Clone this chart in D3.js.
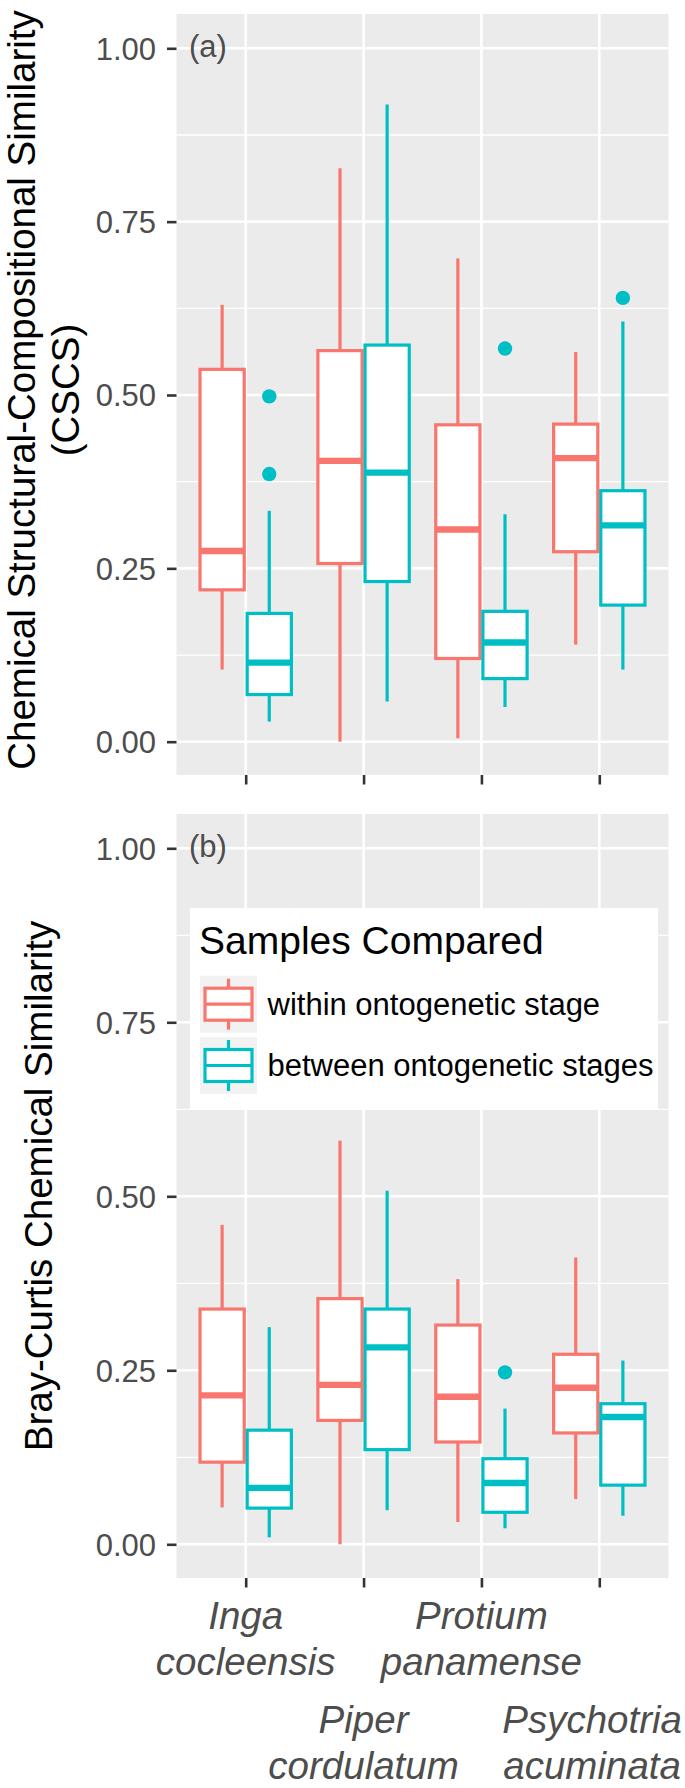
<!DOCTYPE html>
<html>
<head>
<meta charset="utf-8">
<script src="https://cdn.jsdelivr.net/npm/d3@7"></script>
<style>
  html, body { margin: 0; padding: 0; background: #ffffff; }
  svg { display: block; font-family: "Liberation Sans", Arial, Helvetica, sans-serif; }
</style>
</head>
<body>
<svg id="chart" width="685" height="1788"></svg>
<script>
// ---------------- data ----------------
const species = ["Inga cocleensis", "Piper cordulatum", "Protium panamense", "Psychotria acuminata"];
const labelLines = [["Inga", "cocleensis"], ["Piper", "cordulatum"], ["Protium", "panamense"], ["Psychotria", "acuminata"]];
const groups = ["within ontogenetic stage", "between ontogenetic stages"];
const yTicks = [0, 0.25, 0.5, 0.75, 1];
const yMinor = [0.125, 0.375, 0.625, 0.875];

// box stats: [lower whisker, Q1, median, Q3, upper whisker]
// Panel (a): Chemical Structural-Compositional Similarity
const cscsWithin = [
  [0.104, 0.219, 0.275, 0.537, 0.630],
  [0.000, 0.257, 0.405, 0.564, 0.827],
  [0.005, 0.120, 0.306, 0.457, 0.697],
  [0.140, 0.274, 0.409, 0.458, 0.562]
];
const cscsBetween = [
  [0.029, 0.068, 0.114, 0.185, 0.333],
  [0.058, 0.231, 0.388, 0.572, 0.919],
  [0.050, 0.091, 0.143, 0.188, 0.328],
  [0.104, 0.197, 0.312, 0.362, 0.606]
];
const cscsWithinOut = [[], [], [], []];
const cscsBetweenOut = [[0.386, 0.498], [], [0.567], [0.640]];

// Panel (b): Bray-Curtis Chemical Similarity
const bcWithin = [
  [0.053, 0.118, 0.214, 0.338, 0.459],
  [0.000, 0.178, 0.229, 0.353, 0.580],
  [0.032, 0.147, 0.212, 0.315, 0.381],
  [0.065, 0.160, 0.225, 0.273, 0.412]
];
const bcBetween = [
  [0.010, 0.052, 0.081, 0.164, 0.312],
  [0.049, 0.136, 0.283, 0.338, 0.508],
  [0.023, 0.046, 0.088, 0.123, 0.195],
  [0.041, 0.085, 0.183, 0.202, 0.264]
];
const bcWithinOut = [[], [], [], []];
const bcBetweenOut = [[], [], [0.247], []];

// ---------------- style ----------------
const colors = ["#F8766D", "#00BFC4"];
const panelBg = "#EBEBEB";
const textGrey = "#4D4D4D";
const tickCol = "#333333";

const W = 685, H = 1788;
const svg = d3.select("#chart");
svg.append("rect").attr("width", W).attr("height", H).attr("fill", "#fff");

const panelLeft = 176.5, panelRight = 668.5;
const x = d3.scalePoint().domain(species).range([245.7, 599.3]).padding(0);
const step = x.step();
const boxW = 0.375 * step;
const dodge = [-0.2 * step, 0.2 * step];

function drawPanel(cfg) {
  const y = d3.scaleLinear().domain([0, 1]).range([cfg.y0, cfg.y1]);
  const g = svg.append("g");
  g.append("rect").attr("x", panelLeft).attr("y", cfg.top)
    .attr("width", panelRight - panelLeft).attr("height", cfg.bottom - cfg.top)
    .attr("fill", panelBg);
  g.selectAll(".minor").data(yMinor).enter().append("line")
    .attr("x1", panelLeft).attr("x2", panelRight)
    .attr("y1", d => y(d)).attr("y2", d => y(d))
    .attr("stroke", "#fff").attr("stroke-width", 1.3);
  g.selectAll(".major").data(yTicks).enter().append("line")
    .attr("x1", panelLeft).attr("x2", panelRight)
    .attr("y1", d => y(d)).attr("y2", d => y(d))
    .attr("stroke", "#fff").attr("stroke-width", 2.6);
  g.selectAll(".vmajor").data(species).enter().append("line")
    .attr("x1", d => x(d)).attr("x2", d => x(d))
    .attr("y1", cfg.top).attr("y2", cfg.bottom)
    .attr("stroke", "#fff").attr("stroke-width", 2.6);

  const sets = [cfg.within, cfg.between];
  const outs = [cfg.withinOut, cfg.betweenOut];
  sets.forEach((stats, gi) => {
    stats.forEach((s, i) => {
      const cx = x(species[i]) + dodge[gi];
      const col = colors[gi];
      g.append("line").attr("x1", cx).attr("x2", cx)
        .attr("y1", y(s[4])).attr("y2", y(s[3]))
        .attr("stroke", col).attr("stroke-width", 3.2);
      g.append("line").attr("x1", cx).attr("x2", cx)
        .attr("y1", y(s[1])).attr("y2", y(s[0]))
        .attr("stroke", col).attr("stroke-width", 3.2);
      g.append("rect").attr("x", cx - boxW / 2).attr("y", y(s[3]))
        .attr("width", boxW).attr("height", y(s[1]) - y(s[3]))
        .attr("fill", "#fff").attr("stroke", col).attr("stroke-width", 3.2);
      g.append("line").attr("x1", cx - boxW / 2).attr("x2", cx + boxW / 2)
        .attr("y1", y(s[2])).attr("y2", y(s[2]))
        .attr("stroke", col).attr("stroke-width", 6.4);
      outs[gi][i].forEach(o => {
        g.append("circle").attr("cx", cx).attr("cy", y(o)).attr("r", 7.2).attr("fill", col);
      });
    });
  });

  const yAxis = d3.axisLeft(y).tickValues(yTicks).tickFormat(d3.format(".2f"))
    .tickSize(9.5).tickPadding(11);
  const ya = svg.append("g").attr("transform", `translate(${panelLeft},0)`).call(yAxis);
  ya.select(".domain").remove();
  ya.selectAll(".tick line").attr("stroke", tickCol).attr("stroke-width", 2.6);
  ya.selectAll(".tick text").attr("fill", textGrey).attr("font-size", 31)
    .attr("font-family", "Liberation Sans, Arial, sans-serif").attr("dy", "0.35em");

  const xAxis = d3.axisBottom(x).tickSize(9.5).tickFormat("");
  const xa = svg.append("g").attr("transform", `translate(0,${cfg.bottom})`).call(xAxis);
  xa.select(".domain").remove();
  xa.selectAll(".tick line").attr("stroke", tickCol).attr("stroke-width", 2.6);

  svg.append("text").attr("x", 189).attr("y", cfg.tagY)
    .attr("font-size", 31).attr("fill", textGrey).text(cfg.tag);

  const t = svg.append("text")
    .attr("transform", `translate(0,${cfg.titleCenter}) rotate(-90)`)
    .attr("text-anchor", "middle").attr("font-size", 38.5).attr("fill", "#000");
  cfg.title.forEach((line, k) => {
    t.append("tspan").attr("x", 0).attr("y", cfg.titleBase[k]).text(line);
  });
  return y;
}

drawPanel({
  top: 14, bottom: 775, y0: 741.7, y1: 48.3,
  within: cscsWithin, between: cscsBetween, withinOut: cscsWithinOut, betweenOut: cscsBetweenOut,
  tag: "(a)", tagY: 57,
  title: ["Chemical Structural-Compositional Similarity", "(CSCS)"],
  titleCenter: 390, titleBase: [35, 79]
});

drawPanel({
  top: 814, bottom: 1578, y0: 1544.3, y1: 848.3,
  within: bcWithin, between: bcBetween, withinOut: bcWithinOut, betweenOut: bcBetweenOut,
  tag: "(b)", tagY: 857,
  title: ["Bray-Curtis Chemical Similarity"],
  titleCenter: 1186, titleBase: [52]
});

// x labels (bottom panel), dodged in two rows; kept inside the page width
const rowBase = [1629, 1733];
species.forEach((sp, i) => {
  const row = i % 2;
  const tx = svg.append("text").attr("text-anchor", "middle")
    .attr("font-size", 38.5).attr("font-style", "italic").attr("fill", textGrey);
  const spans = labelLines[i].map((ln, k) =>
    tx.append("tspan").attr("x", x(sp)).attr("y", rowBase[row] + k * 46).text(ln));
  const wMax = d3.max(spans, s => s.node().getComputedTextLength());
  const cx = Math.min(x(sp), W - 3 - wMax / 2);
  spans.forEach(s => s.attr("x", cx));
});

// legend
const lg = svg.append("g");
lg.append("rect").attr("x", 190).attr("y", 908).attr("width", 468).attr("height", 202).attr("fill", "#fff");
lg.append("text").attr("x", 199).attr("y", 954).attr("font-size", 39).attr("fill", "#000").text("Samples Compared");
const keyTops = [975.7, 1037];
groups.forEach((gname, i) => {
  const ky = keyTops[i];
  const kx = 200, kw = 57, kh = 57;
  lg.append("rect").attr("x", kx).attr("y", ky).attr("width", kw).attr("height", kh).attr("fill", "#F2F2F2");
  const cx = kx + kw / 2;
  lg.append("line").attr("x1", cx).attr("x2", cx).attr("y1", ky + 3).attr("y2", ky + kh - 3)
    .attr("stroke", colors[i]).attr("stroke-width", 3.2);
  lg.append("rect").attr("x", kx + 5).attr("y", ky + 12.5).attr("width", kw - 10).attr("height", 32)
    .attr("fill", "#fff").attr("stroke", colors[i]).attr("stroke-width", 3.2);
  lg.append("line").attr("x1", kx + 5).attr("x2", kx + kw - 5).attr("y1", ky + kh / 2).attr("y2", ky + kh / 2)
    .attr("stroke", colors[i]).attr("stroke-width", 3.2);
  lg.append("text").attr("x", 267.5).attr("y", ky + kh / 2 + 10.8)
    .attr("font-size", 31).attr("fill", "#000").text(gname);
});
</script>
</body>
</html>
